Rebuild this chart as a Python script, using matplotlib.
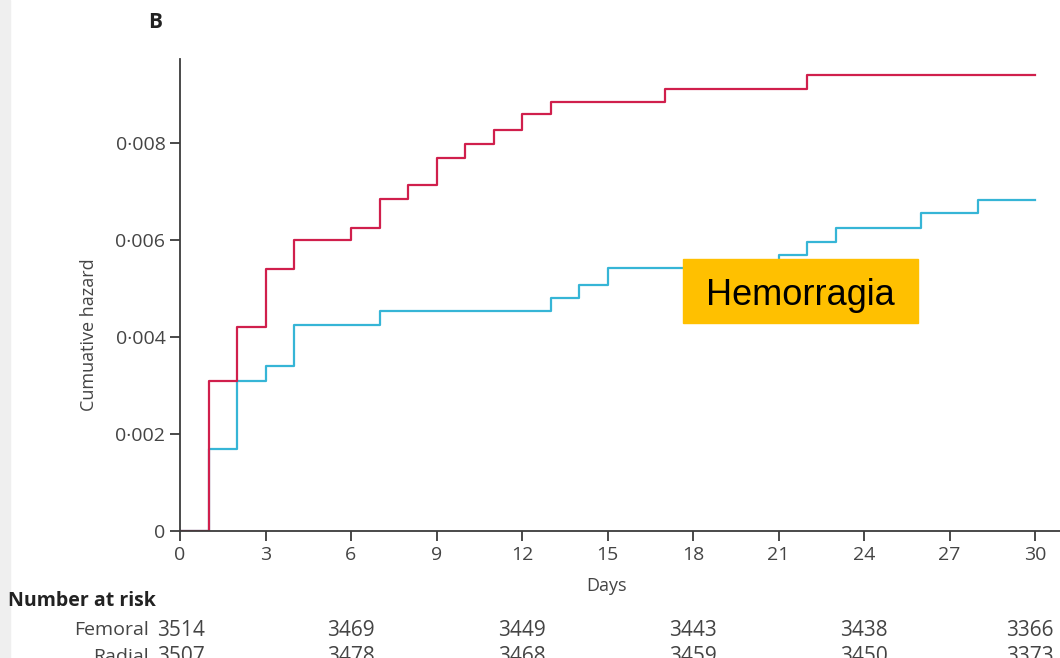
import matplotlib
matplotlib.use('Agg')
import matplotlib.pyplot as plt
from matplotlib.patches import Rectangle
from matplotlib.ticker import FuncFormatter

plt.rcParams['font.family'] = ['Open Sans', 'DejaVu Sans']

# step data (cumulative hazard)
fem_days = [0, 1, 2, 3, 4, 6, 7, 8, 9, 10, 11, 12, 13, 17, 22, 30]
fem_haz = [0, 0.0031, 0.0042, 0.0054, 0.0060, 0.00625, 0.00685, 0.00713,
           0.0077, 0.00798, 0.00827, 0.0086, 0.00885, 0.00912, 0.0094, 0.0094]
rad_days = [0, 1, 2, 3, 4, 7, 13, 14, 15, 21, 22, 23, 26, 28, 30]
rad_haz = [0, 0.0017, 0.0031, 0.0034, 0.00424, 0.00453, 0.0048, 0.00507,
           0.00542, 0.00569, 0.00596, 0.00625, 0.00656, 0.00682, 0.00682]

xticks = [0, 3, 6, 9, 12, 15, 18, 21, 24, 27, 30]
yticks = [0, 0.002, 0.004, 0.006, 0.008]

risk_days = [0, 6, 12, 18, 24, 30]
risk_femoral = ['3514', '3469', '3449', '3443', '3438', '3366']
risk_radial = ['3507', '3478', '3468', '3459', '3450', '3373']

W, H = 1060, 658
fig = plt.figure(figsize=(W / 100, H / 100), dpi=100)
ax = fig.add_axes([180 / W, (H - 531) / H, (W - 180) / W, (531 - 59) / H])

ax.step(rad_days, rad_haz, where='post', color='#36b5d6', lw=1.6)
ax.step(fem_days, fem_haz, where='post', color='#d01f4c', lw=1.6)

ax.set_xlim(0, (W - 180) / 28.5)
ax.set_ylim(0, (531 - 59) / 48500)
ax.set_xticks(xticks)
ax.set_yticks(yticks)
ax.yaxis.set_major_formatter(FuncFormatter(
    lambda v, p: '0' if v == 0 else ('%.3f' % v).replace('.', '\u00b7')))

for s in ['top', 'right']:
    ax.spines[s].set_visible(False)
for s in ['left', 'bottom']:
    ax.spines[s].set_color('#3c3c3c')
    ax.spines[s].set_linewidth(1.3)
ax.tick_params(colors='#3c3c3c', labelcolor='#444444', labelsize=14,
               length=7, width=1.3)

ax.set_xlabel('Days', fontsize=13, color='#444444')
ax.xaxis.set_label_coords((607 - 180) / 880, (531 - 577) / 472)
ax.set_ylabel('Cumuative hazard', fontsize=13, color='#444444')
ax.yaxis.set_label_coords((98 - 180) / 880, (531 - 335) / 472)


def fx(px):
    return px / W


def fy(py):
    return 1 - py / H


# light strip on the left edge
fig.patches.append(Rectangle((0, 0), 10 / W, 1, transform=fig.transFigure,
                             color='#efefef', zorder=0))

fig.text(fx(155), fy(22), 'B', fontsize=15, fontweight='bold', color='#222222',
         ha='center', va='center')

fig.text(fx(8), fy(601), 'Number at risk', fontsize=14, fontweight='bold',
         color='#222222', ha='left', va='center')

fig.text(fx(149), fy(630), 'Femoral', fontsize=14, color='#444444',
         ha='right', va='center')
fig.text(fx(149), fy(657), 'Radial', fontsize=14, color='#444444',
         ha='right', va='center')
for d, f, r in zip(risk_days, risk_femoral, risk_radial):
    x = 180 + d * 28.5
    if d == 0:
        x = 181
    if d == 30:
        x = 1030
    fig.text(fx(x), fy(630), f, fontsize=15, color='#444444', ha='center', va='center')
    fig.text(fx(x), fy(657), r, fontsize=15, color='#444444', ha='center', va='center')

# highlight label
fig.patches.append(Rectangle((fx(683), fy(323)), (918 - 683) / W, (323 - 259) / H,
                             transform=fig.transFigure, color='#ffc000', zorder=5))
fig.text(fx(800), fy(305), 'Hemorragia', fontsize=26, color='black',
         family='Liberation Sans', ha='center', va='baseline', zorder=6)

fig.savefig('out.png', dpi=100)
